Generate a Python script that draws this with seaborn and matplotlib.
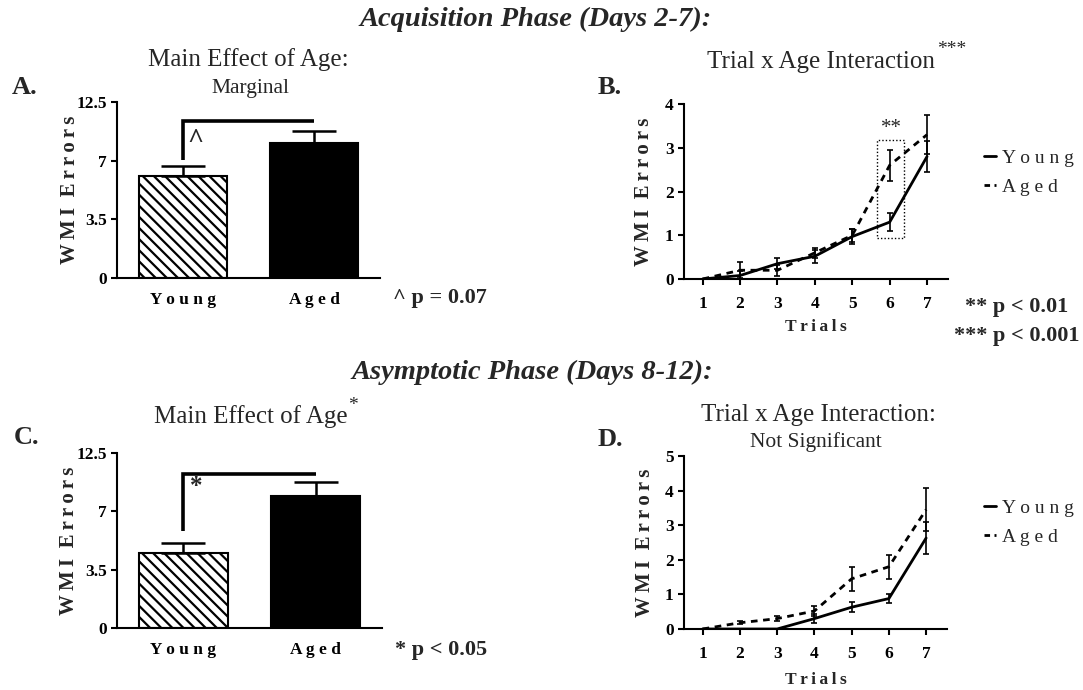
import numpy as np
import pandas as pd
import matplotlib
matplotlib.use("Agg")
import matplotlib.pyplot as plt
from matplotlib.lines import Line2D
from matplotlib.patches import Rectangle
import seaborn as sns

# ---- data -------------------------------------------------------------
groups = ["Young", "Aged"]

acq_means = [6.08, 8.64]
acq_sem = [0.60, 1.10]
asy_means = [4.53, 8.49]
asy_sem = [0.60, 1.23]

trials = [1, 2, 3, 4, 5, 6, 7]
acq_young = [0.0, 0.08, 0.35, 0.52, 0.97, 1.30, 2.80]
acq_young_sem = [0.0, 0.10, 0.12, 0.15, 0.18, 0.21, 0.35]
acq_aged = [0.0, 0.20, 0.20, 0.60, 1.00, 2.60, 3.30]
acq_aged_sem = [0.0, 0.18, 0.12, 0.12, 0.15, 0.35, 0.45]

asy_young = [0.0, 0.0, 0.0, 0.30, 0.63, 0.88, 2.63]
asy_young_sem = [0.0, 0.0, 0.0, 0.12, 0.15, 0.13, 0.45]
asy_aged = [0.0, 0.18, 0.30, 0.52, 1.45, 1.80, 3.45]
asy_aged_sem = [0.0, 0.04, 0.08, 0.15, 0.35, 0.35, 0.63]

bar_ticks = [0, 3.5, 7, 12.5]
bar_ticklabels = ["0", "3.5", "7", "12.5"]

# ---- style ------------------------------------------------------------
sns.set_theme(style="ticks")
plt.rcParams["font.family"] = ["Liberation Serif", "DejaVu Serif"]
plt.rcParams["hatch.linewidth"] = 1.6
plt.rcParams["axes.linewidth"] = 1.5

W, H = 1083, 690
fig = plt.figure(figsize=(W / 100, H / 100), dpi=100)

THIN = "\u2009"


def fx(x):
    return x / W


def fy(y):
    return 1 - y / H


def spaced(s, sep=" "):
    return sep.join(s)


ERR_LABEL = spaced("WMI", THIN) + "  " + spaced("Errors", THIN)
TRIAL_LABEL = spaced("Trials", THIN)


def add_ax(left, top, right, bottom):
    return fig.add_axes([fx(left), fy(bottom), fx(right) - fx(left), (bottom - top) / H])


def seg_fwd(y):
    y = np.asarray(y, dtype=float)
    return np.where(y <= 7, y / 3.5, 2 + (y - 7) / 5.5)


def seg_inv(t):
    t = np.asarray(t, dtype=float)
    return np.where(t <= 2, t * 3.5, 7 + (t - 2) * 5.5)


def style_axis(ax):
    sns.despine(ax=ax)
    for s in ("left", "bottom"):
        ax.spines[s].set_linewidth(1.5)
        ax.spines[s].set_color("black")
    ax.tick_params(axis="both", colors="black", width=1.5, length=4,
                   labelsize=12.5)
    for lab in ax.get_xticklabels() + ax.get_yticklabels():
        lab.set_fontweight("bold")


def bar_panel(ax, means, sems, bracket, mark, mark_y, mark_size):
    df = pd.DataFrame({"Group": groups, "Errors": means})
    sns.barplot(data=df, x="Group", y="Errors", hue="Group",
                palette={"Young": "white", "Aged": "black"},
                edgecolor="black", linewidth=1.5, width=0.67,
                legend=False, ax=ax, zorder=2)
    ax.patches[0].set_hatch("\\\\\\")
    ax.errorbar([0, 1], means, yerr=[[0, 0], sems], fmt="none",
                ecolor="black", elinewidth=1.8, capsize=15.8,
                capthick=1.8, zorder=3)
    ax.set_yscale("function", functions=(seg_fwd, seg_inv))
    ax.set_ylim(0, 12.5)
    ax.set_xlim(-0.5, 1.5)
    ax.set_yticks(bar_ticks)
    ax.set_yticklabels(bar_ticklabels)
    ax.yaxis.set_minor_locator(matplotlib.ticker.NullLocator())
    ax.set_xticks([0, 1])
    ax.set_xticklabels([spaced(g) for g in groups])
    ax.set_xlabel("")
    ax.set_ylabel(ERR_LABEL, fontsize=15, fontweight="bold")
    ax.yaxis.set_label_coords(-0.142, 0.5)
    low, high = bracket
    ax.plot([0, 0, 1], [low, high, high], color="black", lw=2.6,
            solid_capstyle="butt", solid_joinstyle="miter", zorder=4)
    ax.text(0.095, mark_y, mark, ha="center", va="center",
            fontsize=mark_size, fontweight="bold")
    style_axis(ax)
    ax.tick_params(axis="x", length=0, pad=10, labelsize=12.5)


def line_panel(ax, young, ysem, aged, asem, ymax, xlab_y):
    df = pd.DataFrame({
        "Trial": trials * 2,
        "Errors": young + aged,
        "Group": ["Young"] * len(trials) + ["Aged"] * len(trials),
    })
    sns.lineplot(data=df, x="Trial", y="Errors", style="Group",
                 dashes={"Young": "", "Aged": (2.4, 2.0)}, color="black",
                 linewidth=2.0, legend=False, ax=ax)
    ax.errorbar(trials, young, yerr=ysem, fmt="none", ecolor="black",
                elinewidth=1.2, capsize=2.5, capthick=1.2)
    ax.errorbar(trials, aged, yerr=asem, fmt="none", ecolor="black",
                elinewidth=1.2, capsize=2.5, capthick=1.2)
    ax.set_xlim(0.5, 7.56)
    ax.set_ylim(0, ymax)
    ax.set_xticks(trials)
    ax.set_yticks(range(0, ymax + 1))
    ax.set_xlabel(TRIAL_LABEL, fontsize=12.5, fontweight="bold")
    ax.xaxis.set_label_coords(0.5, xlab_y)
    ax.set_ylabel(ERR_LABEL, fontsize=15, fontweight="bold")
    ax.yaxis.set_label_coords(-0.112, 0.5)
    style_axis(ax)
    ax.tick_params(axis="x", pad=8)


def line_legend(y_top):
    handles = [Line2D([], [], color="black", lw=2.0),
               Line2D([], [], color="black", lw=2.0, dashes=(2.0, 1.6))]
    fig.legend(handles, [spaced("Young"), spaced("Aged")],
               loc="upper left", bbox_to_anchor=(fx(984), fy(y_top)),
               frameon=False, fontsize=14, handlelength=0.6,
               handletextpad=0.35, labelspacing=0.6, borderpad=0,
               borderaxespad=0)


# ---- panel A ----------------------------------------------------------
axA = add_ax(117, 102, 380, 278)
bar_panel(axA, acq_means, acq_sem, (7.1, 10.7), "^", 8.85, 20)

# ---- panel C ----------------------------------------------------------
axC = add_ax(117, 453, 382, 628)
bar_panel(axC, asy_means, asy_sem, (5.85, 10.48), "*", 9.3, 18)

# ---- panel B ----------------------------------------------------------
axB = add_ax(684, 104, 948, 279)
line_panel(axB, acq_young, acq_young_sem, acq_aged, acq_aged_sem, 4, -0.228)
axB.add_patch(Rectangle((5.67, 0.94), 0.70, 2.24, fill=False,
                        edgecolor="black", lw=1.0, ls=(0, (1, 1.5))))
axB.text(6.05, 3.45, "**", ha="center", va="center", fontsize=15)
line_legend(149)

# ---- panel D ----------------------------------------------------------
axD = add_ax(684, 456, 947, 629)
line_panel(axD, asy_young, asy_young_sem, asy_aged, asy_aged_sem, 5, -0.248)
line_legend(499)

# ---- headings, titles, letters, notes ---------------------------------
fig.text(fx(536), fy(19), "Acquisition Phase (Days 2-7):", ha="center",
         va="center", fontsize=20.5, fontweight="bold", fontstyle="italic")
fig.text(fx(532), fy(372), "Asymptotic Phase (Days 8-12):", ha="center",
         va="center", fontsize=20.5, fontweight="bold", fontstyle="italic")

fig.text(fx(248), fy(60), "Main Effect of Age:", ha="center", va="center",
         fontsize=18)
fig.text(fx(250), fy(89), "Marginal", ha="center", va="center",
         fontsize=15.5)
fig.text(fx(821), fy(62), "Trial x Age Interaction", ha="center",
         va="center", fontsize=18)
fig.text(fx(937), fy(50), "***", ha="left", va="center", fontsize=14)
fig.text(fx(251), fy(417), "Main Effect of Age", ha="center", va="center",
         fontsize=18)
fig.text(fx(348), fy(406), "*", ha="left", va="center", fontsize=14)
fig.text(fx(818), fy(415), "Trial x Age Interaction:", ha="center",
         va="center", fontsize=18)
fig.text(fx(816), fy(442), "Not Significant", ha="center", va="center",
         fontsize=15.5)

for lx, ly, letter in [(12, 88, "A."), (598, 88, "B."), (14, 437, "C."),
                       (598, 440, "D.")]:
    fig.text(fx(lx), fy(ly), letter, ha="left", va="center", fontsize=19,
             fontweight="bold")

fig.text(fx(393), fy(298), "^ p = 0.07", ha="left", va="center",
         fontsize=16, fontweight="bold")
fig.text(fx(395), fy(650), "* p < 0.05", ha="left", va="center",
         fontsize=16, fontweight="bold")
fig.text(fx(1017), fy(307), "** p < 0.01", ha="center", va="center",
         fontsize=16, fontweight="bold")
fig.text(fx(1017), fy(336), "*** p < 0.001", ha="center", va="center",
         fontsize=16, fontweight="bold")

fig.savefig("out.png", dpi=100, facecolor="white")
